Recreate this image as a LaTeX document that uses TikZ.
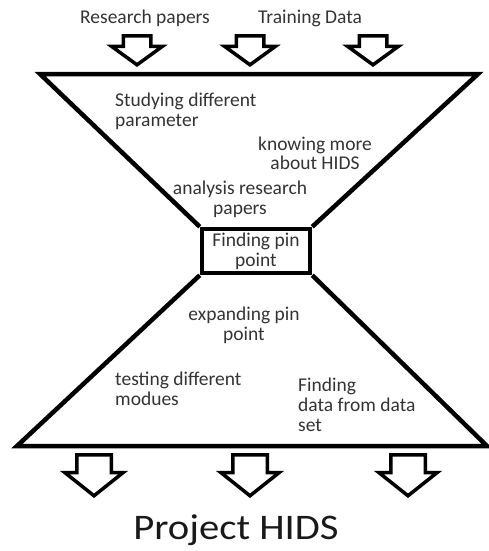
\documentclass[tikz,border=0pt]{standalone}
\usepackage{fontspec}
\setmainfont{Carlito}
\usetikzlibrary{shapes.arrows}

\begin{document}
\begin{tikzpicture}[
    x=1pt,
    y=-1pt,
    font=\fontsize{19.5}{20}\selectfont,
    text=black!80,
    funnel/.style={
        line width=4.5pt,
        line join=miter
    },
    pinbox/.style={
        draw,
        line width=4.5pt,
        rectangle,
        minimum width=108pt,
        minimum height=44pt,
        inner sep=0pt,
        align=center
    },
    inarrow/.style={
        draw,
        line width=3.5pt,
        single arrow,
        rotate=-90,
        anchor=tip,
        single arrow tip angle=108,
        single arrow head extend=11.5pt,
        inner xsep=0pt,
        inner ysep=12pt,
        minimum width=0pt,
        minimum height=29pt
    },
    outarrow/.style={
        inarrow,
        single arrow tip angle=103,
        single arrow head extend=12pt,
        inner ysep=15.5pt,
        minimum height=41pt
    },
    txt/.style={align=center, inner sep=0pt},
    lefttxt/.style={align=left, inner sep=0pt, anchor=west}
]
\useasboundingbox (0,0) rectangle (489,551);

% =========================
% Funnel
% =========================
\node[pinbox] (pin) at (256,251) {Finding pin\\point};

\coordinate (tl) at (40,74);
\coordinate (tr) at (478,74);
\coordinate (bl) at (17,446);
\coordinate (br) at (487,446);

\draw[funnel] (pin.north west) -- (tl) -- (tr) -- (pin.north east);
\draw[funnel] (pin.south west) -- (bl) -- (br) -- (pin.south east);

% =========================
% Inputs and outputs
% =========================
\node[inarrow] (in1) at (137,67) {};
\node[inarrow] (in2) at (250,67) {};
\node[inarrow] (in3) at (373,67) {};

\node[outarrow] (out1) at (94,498) {};
\node[outarrow] (out2) at (250,498) {};
\node[outarrow] (out3) at (408,498) {};

% =========================
% Texts
% =========================
\node[txt] (papers) at (145,18) {Research papers};
\node[txt] (train) at (310,18) {Training Data};

\node[lefttxt] (study) at (115,111) {Studying different\\parameter};
\node[txt, font=\fontsize{19.5}{19}\selectfont] (know) at (315,153) {knowing more\\about HIDS};
\node[txt] (analysis) at (240,199) {analysis research\\papers};

\node[txt] (expand) at (244,325) {expanding pin\\point};
\node[lefttxt] (testing) at (115,389) {testing different\\modues};
\node[lefttxt] (dataset) at (298,405) {Finding\\data from data\\set};

\node[txt, text=black!90, font=\fontsize{36}{40}\selectfont, xscale=1.13] (project) at (236,530) {Project HIDS};

\end{tikzpicture}
\end{document}
